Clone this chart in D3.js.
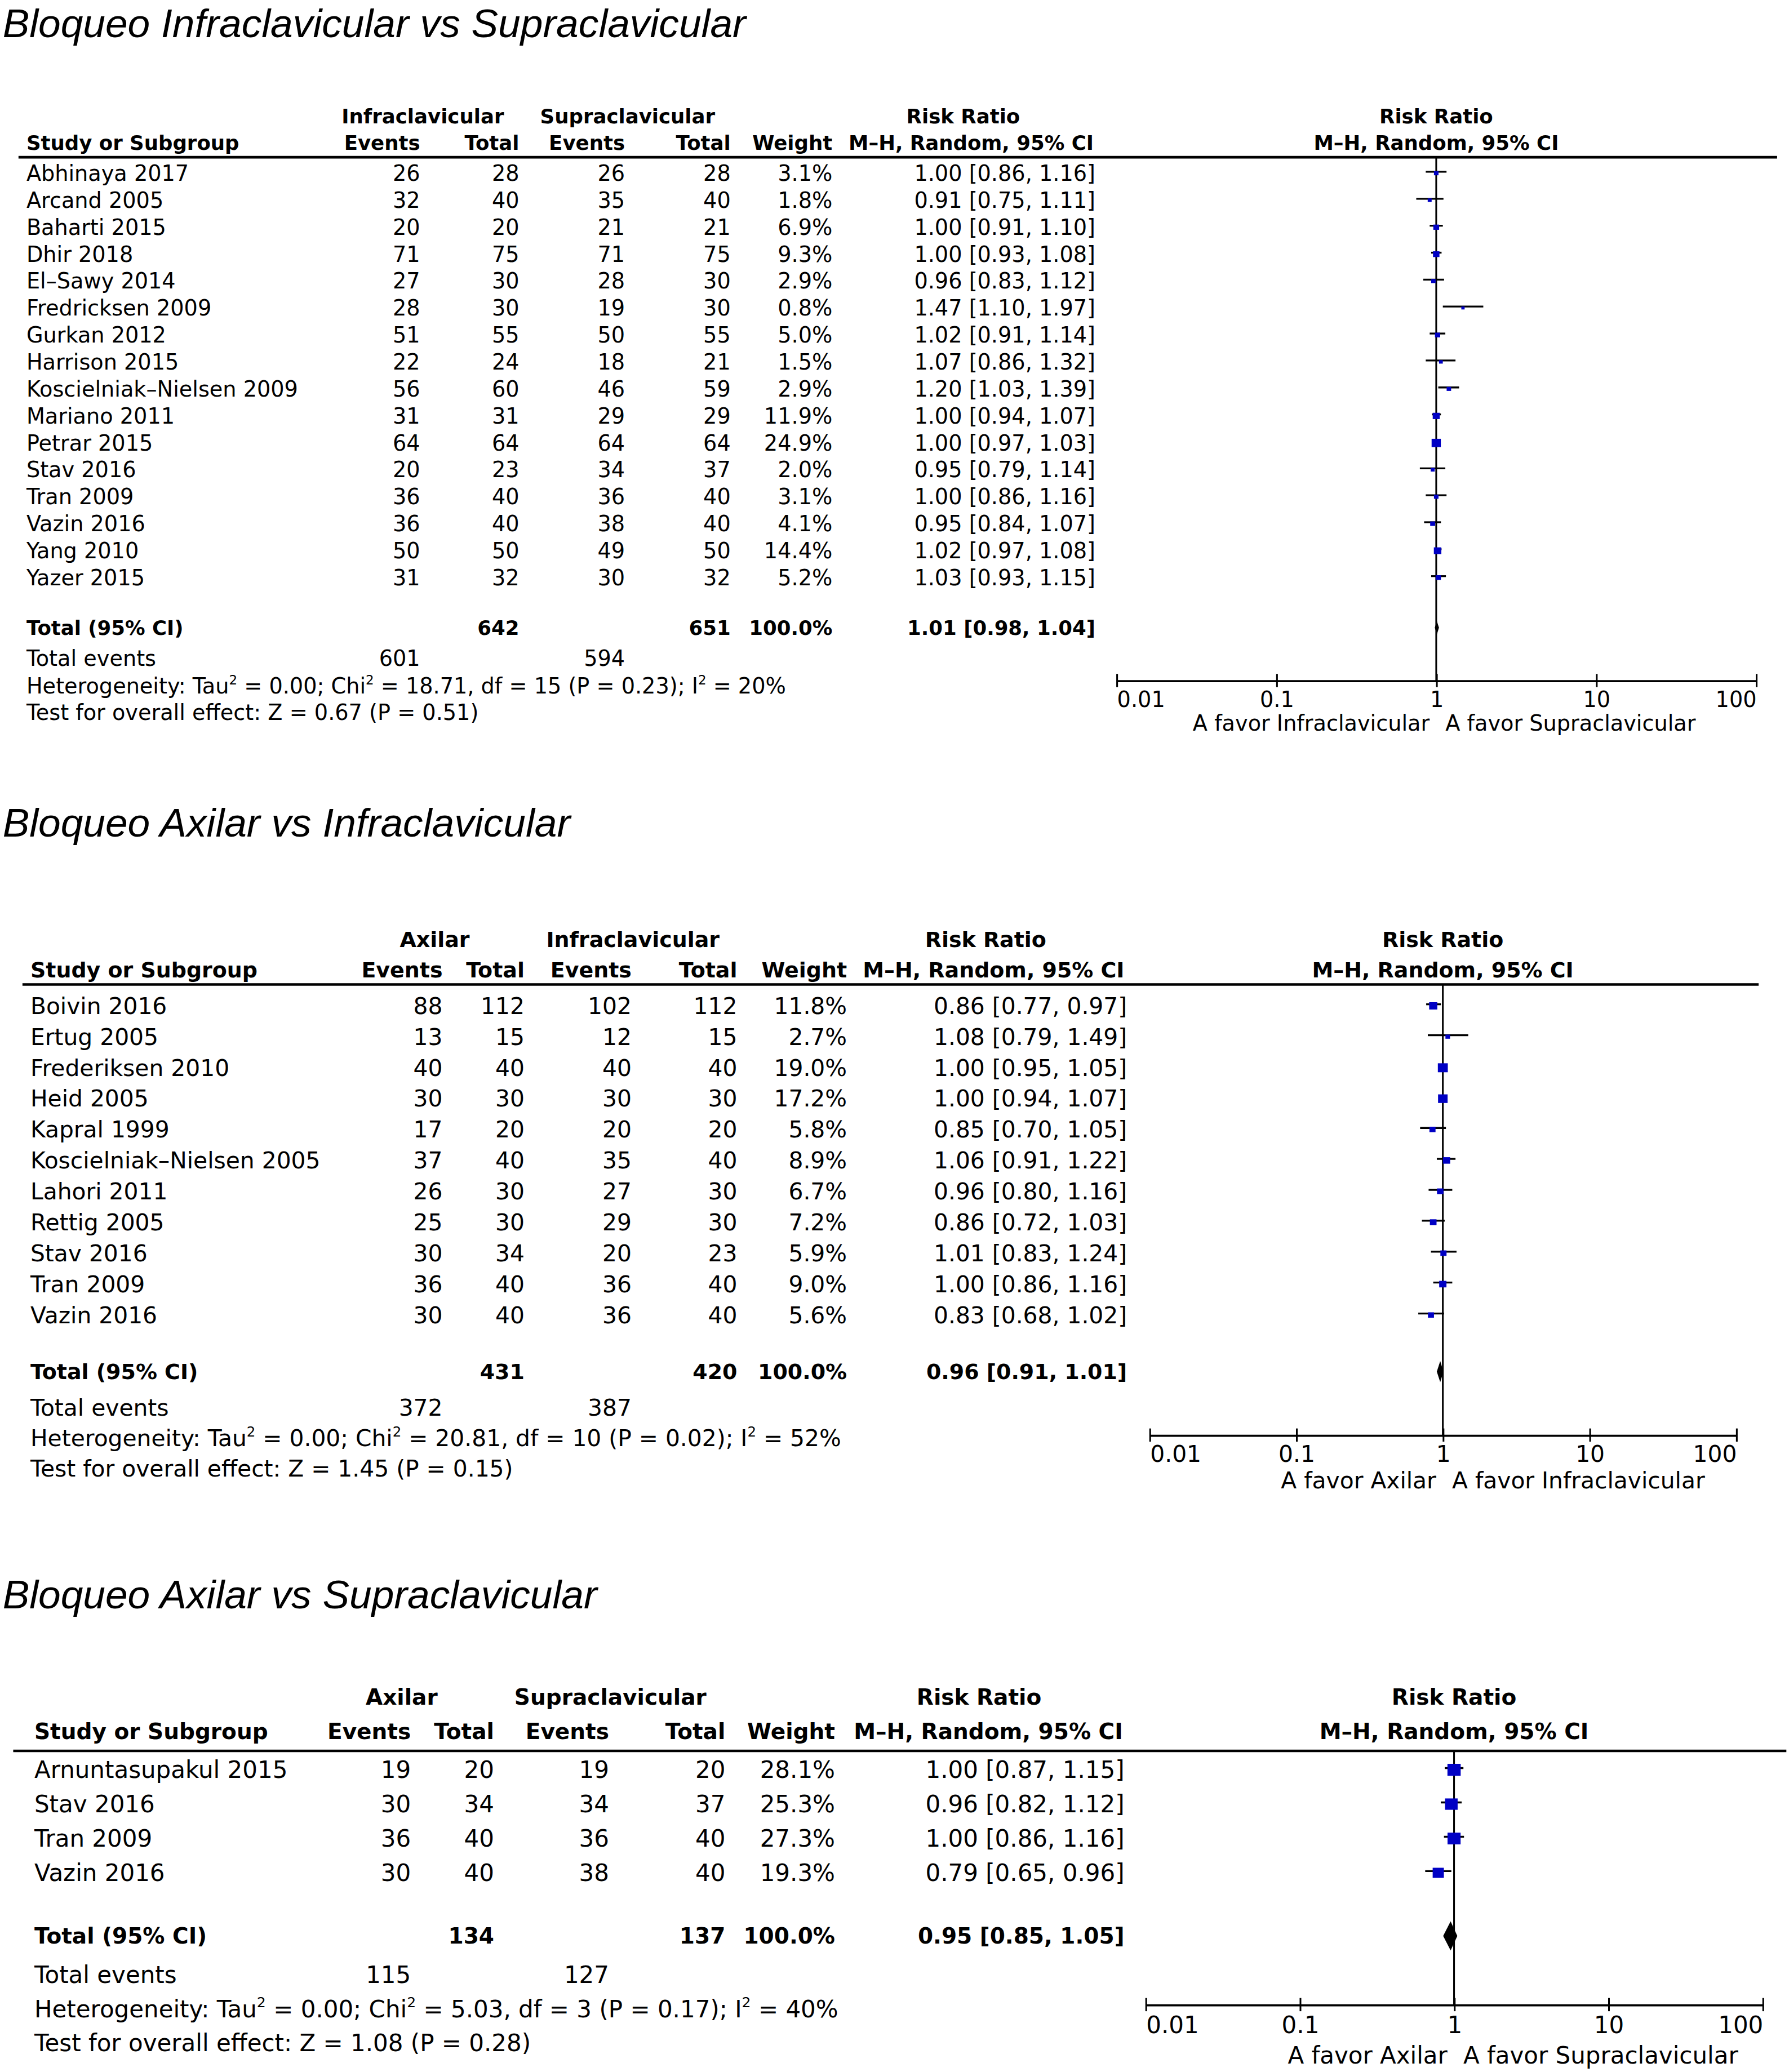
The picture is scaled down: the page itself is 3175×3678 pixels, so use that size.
<!DOCTYPE html>
<html>
<head>
<meta charset="utf-8">
<script src="https://cdn.jsdelivr.net/npm/d3@7"></script>
<style>
 body { margin: 0; background: #fff; }
 svg { display: block; }
</style>
</head>
<body>
<script>
// ---- Panel 1: Infraclavicular vs Supraclavicular ----
var p1Title = "Bloqueo Infraclavicular vs Supraclavicular";
var p1Groups = ["Infraclavicular", "Supraclavicular"];
var p1Favours = ["A favor Infraclavicular", "A favor Supraclavicular"];
var p1Studies = ["Abhinaya 2017", "Arcand 2005", "Baharti 2015", "Dhir 2018", "El–Sawy 2014",
 "Fredricksen 2009", "Gurkan 2012", "Harrison 2015", "Koscielniak–Nielsen 2009", "Mariano 2011",
 "Petrar 2015", "Stav 2016", "Tran 2009", "Vazin 2016", "Yang 2010", "Yazer 2015"];
var p1EventsA = [26, 32, 20, 71, 27, 28, 51, 22, 56, 31, 64, 20, 36, 36, 50, 31];
var p1TotalA = [28, 40, 20, 75, 30, 30, 55, 24, 60, 31, 64, 23, 40, 40, 50, 32];
var p1EventsB = [26, 35, 21, 71, 28, 19, 50, 18, 46, 29, 64, 34, 36, 38, 49, 30];
var p1TotalB = [28, 40, 21, 75, 30, 30, 55, 21, 59, 29, 64, 37, 40, 40, 50, 32];
var p1Weight = [3.1, 1.8, 6.9, 9.3, 2.9, 0.8, 5.0, 1.5, 2.9, 11.9, 24.9, 2.0, 3.1, 4.1, 14.4, 5.2];
var p1RR = [1.00, 0.91, 1.00, 1.00, 0.96, 1.47, 1.02, 1.07, 1.20, 1.00, 1.00, 0.95, 1.00, 0.95, 1.02, 1.03];
var p1Low = [0.86, 0.75, 0.91, 0.93, 0.83, 1.10, 0.91, 0.86, 1.03, 0.94, 0.97, 0.79, 0.86, 0.84, 0.97, 0.93];
var p1High = [1.16, 1.11, 1.10, 1.08, 1.12, 1.97, 1.14, 1.32, 1.39, 1.07, 1.03, 1.14, 1.16, 1.07, 1.08, 1.15];
var p1Totals = [642, 651];
var p1TotalEvents = [601, 594];
var p1Pooled = [1.01, 0.98, 1.04];
var p1Het = "Heterogeneity: Tau^2 = 0.00; Chi^2 = 18.71, df = 15 (P = 0.23); I^2 = 20%";
var p1Test = "Test for overall effect: Z = 0.67 (P = 0.51)";

// ---- Panel 2: Axilar vs Infraclavicular ----
var p2Title = "Bloqueo Axilar vs Infraclavicular";
var p2Groups = ["Axilar", "Infraclavicular"];
var p2Favours = ["A favor Axilar", "A favor Infraclavicular"];
var p2Studies = ["Boivin 2016", "Ertug 2005", "Frederiksen 2010", "Heid 2005", "Kapral 1999",
 "Koscielniak–Nielsen 2005", "Lahori 2011", "Rettig 2005", "Stav 2016", "Tran 2009", "Vazin 2016"];
var p2EventsA = [88, 13, 40, 30, 17, 37, 26, 25, 30, 36, 30];
var p2TotalA = [112, 15, 40, 30, 20, 40, 30, 30, 34, 40, 40];
var p2EventsB = [102, 12, 40, 30, 20, 35, 27, 29, 20, 36, 36];
var p2TotalB = [112, 15, 40, 30, 20, 40, 30, 30, 23, 40, 40];
var p2Weight = [11.8, 2.7, 19.0, 17.2, 5.8, 8.9, 6.7, 7.2, 5.9, 9.0, 5.6];
var p2RR = [0.86, 1.08, 1.00, 1.00, 0.85, 1.06, 0.96, 0.86, 1.01, 1.00, 0.83];
var p2Low = [0.77, 0.79, 0.95, 0.94, 0.70, 0.91, 0.80, 0.72, 0.83, 0.86, 0.68];
var p2High = [0.97, 1.49, 1.05, 1.07, 1.05, 1.22, 1.16, 1.03, 1.24, 1.16, 1.02];
var p2Totals = [431, 420];
var p2TotalEvents = [372, 387];
var p2Pooled = [0.96, 0.91, 1.01];
var p2Het = "Heterogeneity: Tau^2 = 0.00; Chi^2 = 20.81, df = 10 (P = 0.02); I^2 = 52%";
var p2Test = "Test for overall effect: Z = 1.45 (P = 0.15)";

// ---- Panel 3: Axilar vs Supraclavicular ----
var p3Title = "Bloqueo Axilar vs Supraclavicular";
var p3Groups = ["Axilar", "Supraclavicular"];
var p3Favours = ["A favor Axilar", "A favor Supraclavicular"];
var p3Studies = ["Arnuntasupakul 2015", "Stav 2016", "Tran 2009", "Vazin 2016"];
var p3EventsA = [19, 30, 36, 30];
var p3TotalA = [20, 34, 40, 40];
var p3EventsB = [19, 34, 36, 38];
var p3TotalB = [20, 37, 40, 40];
var p3Weight = [28.1, 25.3, 27.3, 19.3];
var p3RR = [1.00, 0.96, 1.00, 0.79];
var p3Low = [0.87, 0.82, 0.86, 0.65];
var p3High = [1.15, 1.12, 1.16, 0.96];
var p3Totals = [134, 137];
var p3TotalEvents = [115, 127];
var p3Pooled = [0.95, 0.85, 1.05];
var p3Het = "Heterogeneity: Tau^2 = 0.00; Chi^2 = 5.03, df = 3 (P = 0.17); I^2 = 40%";
var p3Test = "Test for overall effect: Z = 1.08 (P = 0.28)";

// shared axis ticks
var axisTicks = [0.01, 0.1, 1, 10, 100];
var axisTickLabels = ["0.01", "0.1", "1", "10", "100"];

var FONT = "'DejaVu Sans', Verdana, sans-serif";
var TITLE_FONT = "'Liberation Sans', Arial, sans-serif";
var BLUE = "#0000c4";

// page is laid out in a 1354 x 1568 grid, scaled up to the window
var svg = d3.select("body").append("svg")
 .attr("width", 3175)
 .attr("height", 3678)
 .attr("viewBox", "0 0 1354 1568")
 .attr("preserveAspectRatio", "none");

var panels = [
 {
  title: p1Title, groups: p1Groups, favours: p1Favours, studies: p1Studies,
  evA: p1EventsA, totA: p1TotalA, evB: p1EventsB, totB: p1TotalB,
  weight: p1Weight, rr: p1RR, lo: p1Low, hi: p1High,
  totals: p1Totals, totalEvents: p1TotalEvents, pooled: p1Pooled, het: p1Het, test: p1Test,
  layout: {
   titleY: 28, h1Y: 88, h2Y: 108, lineY: 119, lineX: [14, 1345],
   rowFirst: 131, rowStep: 20.4, totalY: 475, evY: 498, hetY: 519, testY: 539,
   fs: 16.3, study: 20, evA: 318, totA: 393, evB: 473, totB: 553, weight: 630, ci: 829,
   grpA: 320, grpB: 475, rrHead: 729, mhHead: 735,
   axis: [845, 1329], axisY: 515, tickY: 529, favY: 547, box: [1.5, 1.1], diamondH: 5
  }
 },
 {
  title: p2Title, groups: p2Groups, favours: p2Favours, studies: p2Studies,
  evA: p2EventsA, totA: p2TotalA, evB: p2EventsB, totB: p2TotalB,
  weight: p2Weight, rr: p2RR, lo: p2Low, hi: p2High,
  totals: p2Totals, totalEvents: p2TotalEvents, pooled: p2Pooled, het: p2Het, test: p2Test,
  layout: {
   titleY: 633, h1Y: 711, h2Y: 734, lineY: 745, lineX: [17, 1331],
   rowFirst: 761, rowStep: 23.4, totalY: 1038, evY: 1065, hetY: 1088, testY: 1111,
   fs: 17.4, study: 23, evA: 335, totA: 397, evB: 478, totB: 558, weight: 641, ci: 853,
   grpA: 329, grpB: 479, rrHead: 746, mhHead: 752,
   axis: [870, 1314], axisY: 1086, tickY: 1100, favY: 1120, box: [1, 1.5], diamondH: 8
  }
 },
 {
  title: p3Title, groups: p3Groups, favours: p3Favours, studies: p3Studies,
  evA: p3EventsA, totA: p3TotalA, evB: p3EventsB, totB: p3TotalB,
  weight: p3Weight, rr: p3RR, lo: p3Low, hi: p3High,
  totals: p3Totals, totalEvents: p3TotalEvents, pooled: p3Pooled, het: p3Het, test: p3Test,
  layout: {
   titleY: 1217, h1Y: 1284, h2Y: 1310, lineY: 1325, lineX: [10, 1352],
   rowFirst: 1339, rowStep: 26, totalY: 1465, evY: 1494, hetY: 1520, testY: 1546,
   fs: 17.9, study: 26, evA: 311, totA: 374, evB: 461, totB: 549, weight: 632, ci: 851,
   grpA: 304, grpB: 462, rrHead: 741, mhHead: 748,
   axis: [867, 1334], axisY: 1517, tickY: 1532, favY: 1555, box: [1, 1.7], diamondH: 11
  }
 }
];

var f2 = d3.format(".2f");
var f1 = d3.format(".1f");

function ciText(r, l, h) {
 return f2(r) + " [" + f2(l) + ", " + f2(h) + "]";
}

// plain text helper, y is the visual centre of the line
function txt(g, s, x, y, anchor, fs, bold) {
 return g.append("text")
  .attr("x", x)
  .attr("y", y)
  .attr("dy", "0.36em")
  .attr("text-anchor", anchor || "start")
  .attr("font-family", FONT)
  .attr("font-size", bold ? fs * 0.93 : fs)
  .attr("font-weight", bold ? "bold" : "normal")
  .attr("fill", "#000")
  .text(s);
}

// text with "^2" superscripts
function supText(g, s, x, y, fs) {
 var t = g.append("text")
  .attr("x", x)
  .attr("y", y)
  .attr("dy", "0.36em")
  .attr("font-family", FONT)
  .attr("font-size", fs)
  .attr("fill", "#000");
 var parts = s.split("^2");
 parts.forEach(function(p, i) {
  t.append("tspan").attr("dy", i == 0 ? null : fs * 0.42).text(p);
  if (i < parts.length - 1) {
   t.append("tspan")
    .attr("dy", -fs * 0.42)
    .attr("font-size", fs * 0.6)
    .text("2");
  }
 });
 return t;
}

function drawPanel(p) {
 var L = p.layout;
 var fs = L.fs;
 var g = svg.append("g");

 var rows = p.studies.map(function(s, i) {
  return { study: s, evA: p.evA[i], totA: p.totA[i], evB: p.evB[i], totB: p.totB[i],
   weight: p.weight[i], rr: p.rr[i], lo: p.lo[i], hi: p.hi[i] };
 });

 var x = d3.scaleLog().domain([axisTicks[0], axisTicks[axisTicks.length - 1]]).range(L.axis);
 var y = d3.scalePoint()
  .domain(d3.range(rows.length))
  .range([L.rowFirst, L.rowFirst + L.rowStep * (rows.length - 1)]);
 var box = d3.scaleSqrt().domain([0, 100]).range([L.box[0], L.box[0] + L.box[1] * 10]);

 // title
 g.append("text")
  .attr("x", 2)
  .attr("y", L.titleY)
  .attr("font-family", TITLE_FONT)
  .attr("font-style", "italic")
  .attr("font-size", 30.4)
  .text(p.title);

 // headers
 txt(g, p.groups[0], L.grpA, L.h1Y, "middle", fs, true);
 txt(g, p.groups[1], L.grpB, L.h1Y, "middle", fs, true);
 txt(g, "Risk Ratio", L.rrHead, L.h1Y, "middle", fs, true);
 txt(g, "Risk Ratio", x(1), L.h1Y, "middle", fs, true);
 txt(g, "Study or Subgroup", L.study, L.h2Y, "start", fs, true);
 txt(g, "Events", L.evA, L.h2Y, "end", fs, true);
 txt(g, "Total", L.totA, L.h2Y, "end", fs, true);
 txt(g, "Events", L.evB, L.h2Y, "end", fs, true);
 txt(g, "Total", L.totB, L.h2Y, "end", fs, true);
 txt(g, "Weight", L.weight, L.h2Y, "end", fs, true);
 txt(g, "M–H, Random, 95% CI", L.mhHead, L.h2Y, "middle", fs, true);
 txt(g, "M–H, Random, 95% CI", x(1), L.h2Y, "middle", fs, true);

 g.append("line")
  .attr("x1", L.lineX[0]).attr("x2", L.lineX[1])
  .attr("y1", L.lineY).attr("y2", L.lineY)
  .attr("stroke", "#000").attr("stroke-width", 2);

 // study rows
 var cols = [
  { key: "study", x: L.study, anchor: "start", f: function(d) { return d.study; } },
  { key: "evA", x: L.evA, anchor: "end", f: function(d) { return d.evA; } },
  { key: "totA", x: L.totA, anchor: "end", f: function(d) { return d.totA; } },
  { key: "evB", x: L.evB, anchor: "end", f: function(d) { return d.evB; } },
  { key: "totB", x: L.totB, anchor: "end", f: function(d) { return d.totB; } },
  { key: "weight", x: L.weight, anchor: "end", f: function(d) { return f1(d.weight) + "%"; } },
  { key: "ci", x: L.ci, anchor: "end", f: function(d) { return ciText(d.rr, d.lo, d.hi); } }
 ];
 cols.forEach(function(c) {
  g.selectAll(".col-" + c.key)
   .data(rows)
   .enter()
   .append("text")
   .attr("class", "col-" + c.key)
   .attr("x", c.x)
   .attr("y", function(d, i) { return y(i); })
   .attr("dy", "0.36em")
   .attr("text-anchor", c.anchor)
   .attr("font-family", FONT)
   .attr("font-size", fs)
   .text(c.f);
 });

 // total rows
 txt(g, "Total (95% CI)", L.study, L.totalY, "start", fs, true);
 txt(g, p.totals[0], L.totA, L.totalY, "end", fs, true);
 txt(g, p.totals[1], L.totB, L.totalY, "end", fs, true);
 txt(g, "100.0%", L.weight, L.totalY, "end", fs, true);
 txt(g, ciText(p.pooled[0], p.pooled[1], p.pooled[2]), L.ci, L.totalY, "end", fs, true);
 txt(g, "Total events", L.study, L.evY, "start", fs);
 txt(g, p.totalEvents[0], L.evA, L.evY, "end", fs);
 txt(g, p.totalEvents[1], L.evB, L.evY, "end", fs);
 supText(g, p.het, L.study, L.hetY, fs);
 txt(g, p.test, L.study, L.testY, "start", fs);

 // line of no effect
 g.append("line")
  .attr("x1", x(1)).attr("x2", x(1))
  .attr("y1", L.lineY).attr("y2", L.axisY)
  .attr("stroke", "#000").attr("stroke-width", 1.3);

 // confidence intervals
 g.selectAll(".ci")
  .data(rows)
  .enter()
  .append("line")
  .attr("class", "ci")
  .attr("x1", function(d) { return x(d.lo); })
  .attr("x2", function(d) { return x(d.hi); })
  .attr("y1", function(d, i) { return y(i) - 1; })
  .attr("y2", function(d, i) { return y(i) - 1; })
  .attr("stroke", "#000")
  .attr("stroke-width", 1.4);

 // weight boxes
 g.selectAll(".box")
  .data(rows)
  .enter()
  .append("rect")
  .attr("class", "box")
  .attr("x", function(d) { return x(d.rr) - box(d.weight) / 2; })
  .attr("y", function(d, i) { return y(i) - box(d.weight) * 0.42; })
  .attr("width", function(d) { return box(d.weight); })
  .attr("height", function(d) { return box(d.weight) * 0.9; })
  .attr("fill", BLUE);

 // pooled diamond
 var dm = [[p.pooled[1], 0], [p.pooled[0], -L.diamondH], [p.pooled[2], 0], [p.pooled[0], L.diamondH]];
 g.append("polygon")
  .attr("points", dm.map(function(d) { return x(d[0]) + "," + (L.totalY + d[1]); }).join(" "))
  .attr("fill", "#000");

 // log axis
 var ax = g.append("g")
  .attr("transform", "translate(0," + L.axisY + ")")
  .call(d3.axisBottom(x).tickValues(axisTicks).tickSizeInner(5).tickSizeOuter(0)
   .tickFormat(function(d, i) { return axisTickLabels[i]; }));
 ax.select(".domain").attr("stroke", "#000").attr("stroke-width", 1.6);
 ax.selectAll(".tick line").attr("y1", -5).attr("stroke", "#000").attr("stroke-width", 1.3);
 ax.selectAll(".tick text")
  .attr("y", L.tickY - L.axisY)
  .attr("dy", "0.36em")
  .attr("font-family", FONT)
  .attr("font-size", fs)
  .attr("fill", "#000")
  .attr("text-anchor", function(d, i) {
   if (i == 0) return "start";
   if (i == axisTicks.length - 1) return "end";
   return "middle";
  });

 txt(g, p.favours[0], x(1) - 5, L.favY, "end", fs);
 txt(g, p.favours[1], x(1) + 7, L.favY, "start", fs);
}

panels.forEach(drawPanel);
</script>
</body>
</html>
